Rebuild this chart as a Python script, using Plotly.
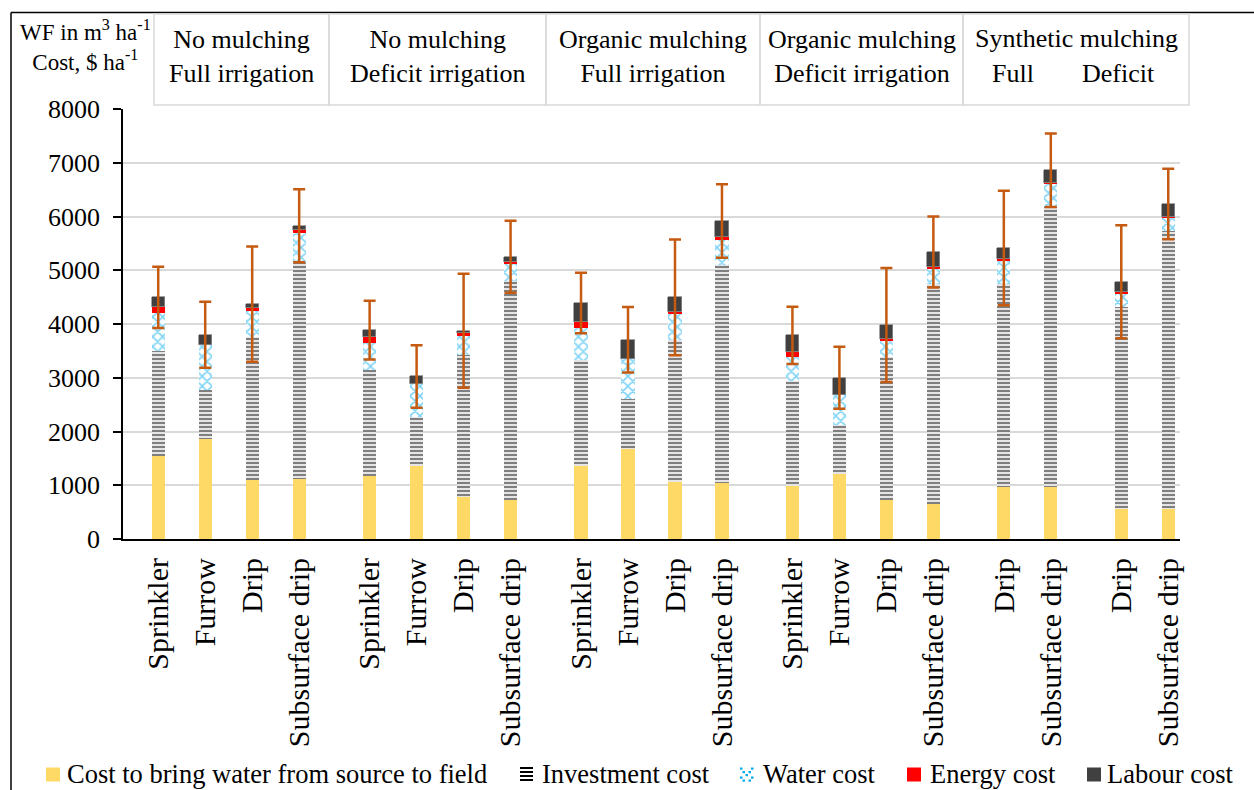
import plotly.graph_objects as go

# ---------------- data ----------------
groups = ["No mulching / Full irrigation", "No mulching / Deficit irrigation",
          "Organic mulching / Full irrigation", "Organic mulching / Deficit irrigation",
          "Synthetic mulching / Full", "Synthetic mulching / Deficit"]
group_systems = [
    ["Sprinkler", "Furrow", "Drip", "Subsurface drip"],
    ["Sprinkler", "Furrow", "Drip", "Subsurface drip"],
    ["Sprinkler", "Furrow", "Drip", "Subsurface drip"],
    ["Sprinkler", "Furrow", "Drip", "Subsurface drip"],
    ["Drip", "Subsurface drip"],
    ["Drip", "Subsurface drip"],
]
series_names = ["Cost to bring water from source to field", "Investment cost",
                "Water cost", "Energy cost", "Labour cost"]
water_delivery = [1550, 1855, 1105, 1117, 1173, 1360, 782, 733, 1360, 1670, 1061, 1037,
                  987, 1210, 720, 659, 969, 969, 566, 566]
investment = [1950, 925, 2655, 4023, 1969, 912, 2645, 4071, 1968, 926, 2639, 4060,
              1949, 920, 2658, 4084, 3768, 5202, 3754, 5170]
water_cost = [700, 825, 485, 547, 508, 621, 348, 317, 590, 756, 484, 478,
              453, 546, 322, 292, 453, 434, 250, 249]
energy_cost = [125, 0, 45, 58, 112, 0, 50, 37, 123, 0, 46, 35,
               82, 0, 30, 25, 25, 25, 25, 15]
labour_cost = [170, 195, 80, 84, 124, 131, 48, 93, 348, 354, 265, 306,
               317, 322, 250, 279, 198, 230, 191, 233]
wf_error = [570, 615, 1070, 680, 547, 580, 1060, 670, 563, 610, 1078, 685,
            533, 577, 1061, 661, 1064, 683, 1052, 655]
y_ticks = [0, 1000, 2000, 3000, 4000, 5000, 6000, 7000, 8000]

# ---------------- layout helpers ----------------
GAP = 0.5
xpos, xlab = [], []
p = 0.0
for gi, sys_list in enumerate(group_systems):
    if gi > 0:
        p += GAP
    for s in sys_list:
        xpos.append(p)
        xlab.append(s)
        p += 1
totals = [a + b + c + d + e for a, b, c, d, e in
          zip(water_delivery, investment, water_cost, energy_cost, labour_cost)]

W_FIG, H_FIG = 1254, 790
L, R, T, B = 123, 1180, 109, 539


def fx(px):
    return (px - L) / (R - L)


def fy(py):
    return (B - py) / (B - T)


FONT = "Liberation Serif, Times New Roman, serif"
BW = 0.28
C_YEL, C_BLUE, C_RED, C_LAB, C_ERR = "#FFD966", "#00A8EC", "#FF0000", "#404040", "#C55A11"

fig = go.Figure()
fig.add_trace(go.Bar(x=xpos, y=water_delivery, width=BW, name=series_names[0],
                     marker=dict(color=C_YEL, line=dict(width=0))))
fig.add_trace(go.Bar(x=xpos, y=investment, width=BW, name=series_names[1],
                     marker=dict(color="white", line=dict(width=0),
                                 pattern=dict(shape="-", fgcolor="black", bgcolor="white",
                                              size=4, solidity=0.6))))
fig.add_trace(go.Bar(x=xpos, y=water_cost, width=BW, name=series_names[2],
                     marker=dict(color="white", line=dict(width=0),
                                 pattern=dict(shape="x", fgcolor=C_BLUE, bgcolor="white",
                                              size=7, solidity=0.4))))
fig.add_trace(go.Bar(x=xpos, y=energy_cost, width=BW, name=series_names[3],
                     marker=dict(color=C_RED, line=dict(width=0))))
fig.add_trace(go.Bar(x=xpos, y=labour_cost, width=BW, name=series_names[4],
                     marker=dict(color=C_LAB, line=dict(width=0.8, color="#8C8C8C"))))
fig.add_trace(go.Scatter(x=xpos, y=totals, mode="markers", showlegend=False, hoverinfo="skip",
                         marker=dict(size=1, color="rgba(0,0,0,0)"),
                         error_y=dict(type="data", array=wf_error, visible=True,
                                      color=C_ERR, thickness=2.5, width=6)))
fig.update_traces(showlegend=False)

shapes = []
# outer chart border (left and top)
shapes.append(dict(type="line", xref="paper", yref="paper", x0=fx(11), x1=fx(11),
                   y0=fy(800), y1=fy(12.5), line=dict(color="black", width=1.5)))
shapes.append(dict(type="line", xref="paper", yref="paper", x0=fx(11), x1=fx(1260),
                   y0=fy(12.5), y1=fy(12.5), line=dict(color="black", width=1.5)))
# header boxes
box_edges = [154, 329, 546, 760, 963, 1189]
for i in range(len(box_edges) - 1):
    shapes.append(dict(type="rect", xref="paper", yref="paper",
                       x0=fx(box_edges[i]), x1=fx(box_edges[i + 1]),
                       y0=fy(105), y1=fy(14),
                       line=dict(color="#D9D9D9", width=1.5), fillcolor="rgba(0,0,0,0)"))


def rect(x0, x1, y0, y1, color):
    return dict(type="rect", xref="paper", yref="paper", x0=fx(x0), x1=fx(x1),
                y0=fy(y1), y1=fy(y0), line=dict(width=0), fillcolor=color)


# legend symbols (drawn manually)
shapes.append(rect(46, 60, 767.5, 781.5, C_YEL))
for k in range(4):
    shapes.append(rect(520, 533, 767 + 4 * k, 769 + 4 * k, "black"))
water_dots = [(740, 767.5), (751, 767.5), (742.5, 771), (748.5, 771), (745.5, 774),
              (740, 776.5), (751, 776.5), (742.5, 779.5), (748.5, 779.5)]
for dx, dy in water_dots:
    shapes.append(rect(dx, dx + 2.5, dy, dy + 2.2, C_BLUE))
shapes.append(rect(907, 921, 767.5, 781.5, C_RED))
shapes.append(rect(1087, 1101, 767.5, 781.5, C_LAB))

annotations = []
legend_text_x = [65, 540, 761, 928, 1105]
for name, tx in zip(series_names, legend_text_x):
    annotations.append(dict(xref="paper", yref="paper", x=fx(tx), y=fy(774), text=name,
                            showarrow=False, xanchor="left", yanchor="middle",
                            font=dict(family=FONT, size=26.5, color="black")))

header_texts = ["No mulching<br>Full irrigation", "No mulching<br>Deficit irrigation",
                "Organic mulching<br>Full irrigation", "Organic mulching<br>Deficit irrigation"]
for i, t in enumerate(header_texts):
    cx = (box_edges[i] + box_edges[i + 1]) / 2
    annotations.append(dict(xref="paper", yref="paper", x=fx(cx), y=fy(56), text=t,
                            showarrow=False, xanchor="center", yanchor="middle",
                            font=dict(family=FONT, size=26, color="black")))
annotations.append(dict(xref="paper", yref="paper", x=fx((963 + 1189) / 2), y=fy(39),
                        text="Synthetic mulching", showarrow=False, xanchor="center",
                        yanchor="middle", font=dict(family=FONT, size=26, color="black")))
annotations.append(dict(xref="paper", yref="paper", x=fx(1013), y=fy(73), text="Full",
                        showarrow=False, xanchor="center", yanchor="middle",
                        font=dict(family=FONT, size=26, color="black")))
annotations.append(dict(xref="paper", yref="paper", x=fx(1118), y=fy(73), text="Deficit",
                        showarrow=False, xanchor="center", yanchor="middle",
                        font=dict(family=FONT, size=26, color="black")))
annotations.append(dict(xref="paper", yref="paper", x=fx(85), y=fy(45),
                        text="WF in m<sup>3</sup> ha<sup>-1</sup><br>Cost, $ ha<sup>-1</sup>",
                        showarrow=False, xanchor="center", yanchor="middle",
                        font=dict(family=FONT, size=23, color="black")))

fig.update_layout(
    width=W_FIG, height=H_FIG, autosize=False,
    margin=dict(l=L, r=W_FIG - R, t=T, b=H_FIG - B, pad=0),
    paper_bgcolor="white", plot_bgcolor="white",
    barmode="stack", bargap=0, showlegend=False,
    font=dict(family=FONT, color="black"),
    shapes=shapes, annotations=annotations,
    xaxis=dict(range=[-0.75, 21.75], tickmode="array", tickvals=xpos, ticktext=xlab,
               tickangle=-90, showline=True, linecolor="black", linewidth=2,
               ticks="", showgrid=False, zeroline=False, automargin=False,
               ticklabelstandoff=5,
               tickfont=dict(family=FONT, size=30, color="black")),
    yaxis=dict(range=[0, 8000], tickmode="array", tickvals=y_ticks,
               showline=True, linecolor="black", linewidth=1.5,
               ticks="outside", ticklen=8, tickwidth=1.5, tickcolor="black",
               showgrid=True, gridcolor="#D9D9D9", gridwidth=1.5, zeroline=False,
               automargin=False, ticklabelstandoff=8,
               tickfont=dict(family=FONT, size=26, color="black")),
)

fig.write_html("out.html", config={"displayModeBar": False},
               post_script="document.body.style.margin='0';"
                           "document.documentElement.style.overflow='hidden';"
                           "document.body.style.overflow='hidden';")
